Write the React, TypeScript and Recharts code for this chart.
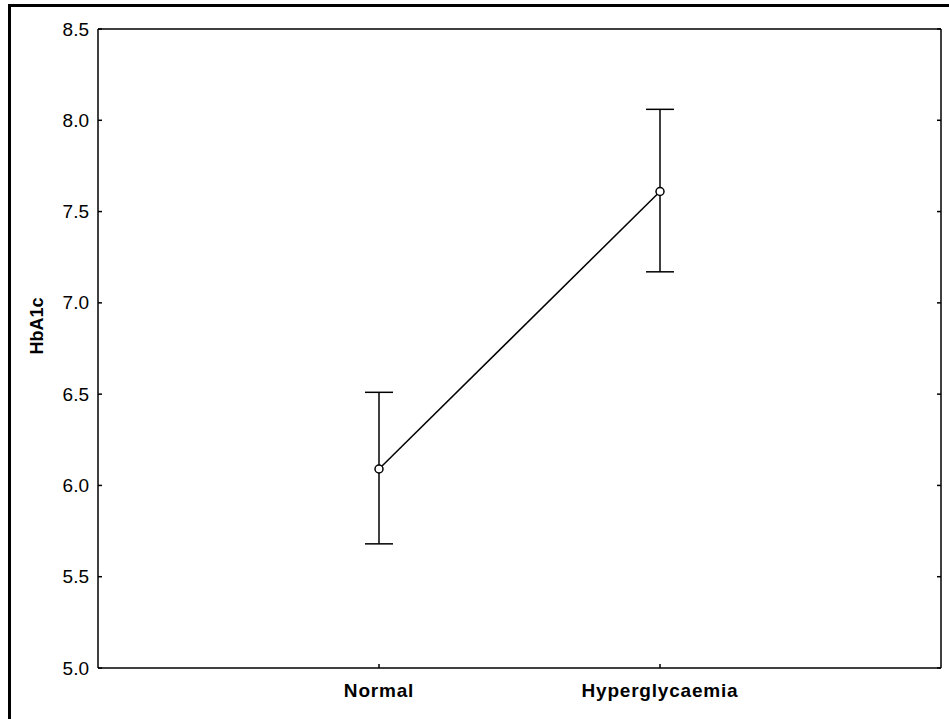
import { LineChart, Line, XAxis, YAxis, ErrorBar } from 'recharts';

const groups = ['Normal', 'Hyperglycaemia'];
const means = [6.09, 7.61];
const lower = [5.68, 7.17];
const upper = [6.51, 8.06];
const yTicks = [5.0, 5.5, 6.0, 6.5, 7.0, 7.5, 8.0, 8.5];

const data = groups.map((name, i) => ({
  pos: i + 1,
  name,
  mean: means[i],
  err: [means[i] - lower[i], upper[i] - means[i]],
}));

const font = '"Liberation Sans", Arial, sans-serif';

function LeftTick(props: any) {
  const { x, y, payload } = props;
  return (
    <g>
      <line x1={x} y1={y} x2={x + 4} y2={y} stroke="#000" strokeWidth={1.5} />
      <text x={x - 9} y={y} textAnchor="end" dominantBaseline="central" fontSize={19} fontFamily={font} fill="#000">
        {Number(payload.value).toFixed(1)}
      </text>
    </g>
  );
}

function RightTick(props: any) {
  const { x, y } = props;
  return <line x1={x} y1={y} x2={x - 4} y2={y} stroke="#000" strokeWidth={1.5} />;
}

function BottomTick(props: any) {
  const { x, y, payload } = props;
  return (
    <g>
      <line x1={x} y1={y} x2={x} y2={y - 4} stroke="#000" strokeWidth={1.5} />
      <text x={x} y={y + 29} textAnchor="middle" fontSize={19} fontWeight="bold" letterSpacing={0.8} fontFamily={font} fill="#000">
        {groups[payload.value - 1]}
      </text>
    </g>
  );
}

function YLabel() {
  return (
    <text x={37} y={326} transform="rotate(-90, 37, 326)" textAnchor="middle" dominantBaseline="central" fontSize={18} fontWeight="bold" fontFamily={font} fill="#000">
      HbA1c
    </text>
  );
}

export default function App() {
  return (
    <div style={{ position: 'absolute', left: 0, top: 0, width: 949, height: 719, overflow: 'hidden', background: '#fff' }}>
      <div style={{ position: 'absolute', left: 8, top: 4, width: 941, height: 3, background: '#000' }} />
      <div style={{ position: 'absolute', left: 8, top: 4, width: 3, height: 715, background: '#000' }} />
      <div style={{ position: 'absolute', left: 0, top: 0 }}>
        <LineChart width={949} height={719} data={data} margin={{ top: 28, right: 7, bottom: 0, left: 0 }}>
          <XAxis
            xAxisId="b"
            dataKey="pos"
            type="number"
            domain={[0, 3]}
            ticks={[1, 2]}
            interval={0}
            height={51}
            tickSize={0}
            tickMargin={0}
            tick={<BottomTick />}
            axisLine={{ stroke: '#000', strokeWidth: 1.5 }}
            tickLine={false}
          />
          <XAxis
            xAxisId="t"
            dataKey="pos"
            orientation="top"
            type="number"
            domain={[0, 3]}
            ticks={[1, 2]}
            height={1}
            tick={false}
            tickLine={false}
            axisLine={{ stroke: '#000', strokeWidth: 1.5 }}
          />
          <YAxis
            yAxisId="l"
            domain={[5, 8.5]}
            ticks={yTicks}
            interval={0}
            width={98}
            tickSize={0}
            tickMargin={0}
            tick={<LeftTick />}
            tickLine={false}
            axisLine={{ stroke: '#000', strokeWidth: 1.5 }}
            label={<YLabel />}
          />
          <YAxis
            yAxisId="r"
            orientation="right"
            domain={[5, 8.5]}
            ticks={yTicks}
            interval={0}
            width={1}
            tickSize={0}
            tickMargin={0}
            tick={<RightTick />}
            tickLine={false}
            axisLine={{ stroke: '#000', strokeWidth: 1.5 }}
          />
          <Line
            xAxisId="t"
            yAxisId="r"
            dataKey="mean"
            stroke="none"
            dot={false}
            activeDot={false}
            legendType="none"
            isAnimationActive={false}
          />
          <Line
            xAxisId="b"
            yAxisId="l"
            dataKey="mean"
            stroke="#000"
            strokeWidth={1.5}
            dot={{ r: 4, fill: '#fff', stroke: '#000', strokeWidth: 1.5 }}
            isAnimationActive={false}
          >
            <ErrorBar dataKey="err" width={14} stroke="#000" strokeWidth={1.5} direction="y" />
          </Line>
        </LineChart>
      </div>
    </div>
  );
}
